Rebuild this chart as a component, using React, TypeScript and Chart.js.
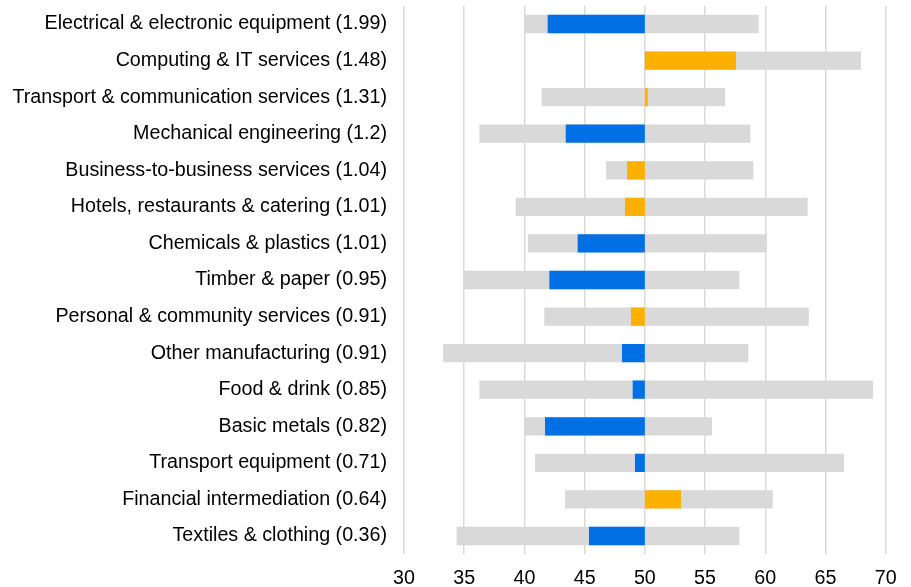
import React, { useEffect, useRef } from "react";
import { Chart, registerables } from "chart.js";

Chart.register(...registerables);

const categories = [
  "Electrical & electronic equipment (1.99)",
  "Computing & IT services (1.48)",
  "Transport & communication services (1.31)",
  "Mechanical engineering (1.2)",
  "Business-to-business services (1.04)",
  "Hotels, restaurants & catering (1.01)",
  "Chemicals & plastics (1.01)",
  "Timber & paper (0.95)",
  "Personal & community services (0.91)",
  "Other manufacturing (0.91)",
  "Food & drink (0.85)",
  "Basic metals (0.82)",
  "Transport equipment (0.71)",
  "Financial intermediation (0.64)",
  "Textiles & clothing (0.36)",
];

// sector group: "S" = services (orange), "M" = manufacturing (blue)
const sectorGroup = ["M", "S", "S", "M", "S", "S", "M", "M", "S", "M", "M", "M", "M", "S", "M"];

const rangeMin = [40.0, 50.0, 41.43, 36.26, 46.78, 39.27, 40.3, 34.98, 41.65, 33.24, 36.26, 39.97, 40.88, 43.37, 34.37];
const rangeMax = [59.45, 67.95, 56.66, 58.76, 59.01, 63.52, 60.15, 57.85, 63.61, 58.6, 68.95, 55.58, 66.54, 60.62, 57.85];
const indexValues = [41.93, 57.57, 50.24, 43.43, 48.52, 48.35, 44.42, 42.07, 48.85, 48.1, 48.99, 41.71, 49.18, 53.0, 45.36];
const baseline = 50;
const xTicks = [30, 35, 40, 45, 50, 55, 60, 65, 70];

const BLUE = "#0070E4";
const ORANGE = "#FCB100";
const GRAY = "#D9D9D9";

export default function App() {
  const ref = useRef<HTMLCanvasElement | null>(null);

  useEffect(() => {
    if (!ref.current) return;
    const chart = new Chart(ref.current, {
      type: "bar",
      data: {
        labels: categories,
        datasets: [
          {
            label: "Index",
            data: indexValues.map((v) => [baseline, v]) as any,
            backgroundColor: sectorGroup.map((g) => (g === "S" ? ORANGE : BLUE)),
            grouped: false,
            order: 0,
            barPercentage: 0.5,
            categoryPercentage: 1,
          },
          {
            label: "Range",
            data: rangeMin.map((m, i) => [m, rangeMax[i]]) as any,
            backgroundColor: GRAY,
            grouped: false,
            order: 1,
            barPercentage: 0.5,
            categoryPercentage: 1,
          },
        ],
      },
      options: {
        indexAxis: "y",
        animation: false,
        responsive: true,
        maintainAspectRatio: false,
        layout: { padding: { top: 5.7, right: 25.3, bottom: 0, left: 0 } },
        plugins: { legend: { display: false }, tooltip: { enabled: false } },
        scales: {
          x: {
            type: "linear",
            min: 30,
            max: 70,
            afterBuildTicks: (scale: any) => {
              scale.ticks = xTicks.map((v) => ({ value: v }));
            },
            afterFit: (scale: any) => {
              scale.height = 32.7;
              scale.paddingLeft = 0;
              scale.paddingRight = 0;
            },
            grid: { color: "#D9D9D9", lineWidth: 1.5, drawTicks: false },
            border: { display: false },
            ticks: {
              padding: 12,
              color: "#000",
              font: { family: "Liberation Sans, Arial, sans-serif", size: 19.7 },
            },
          },
          y: {
            type: "category",
            afterFit: (scale: any) => {
              scale.width = 404;
              scale.paddingTop = 0;
              scale.paddingBottom = 0;
            },
            grid: { display: false, drawTicks: false },
            border: { display: false },
            ticks: {
              padding: 17,
              color: "#000",
              font: { family: "Liberation Sans, Arial, sans-serif", size: 19.7 },
            },
          },
        },
      },
    });
    return () => chart.destroy();
  }, []);

  return (
    <div style={{ position: "fixed", left: 0, top: 0, width: 911, height: 587, background: "#fff" }}>
      <canvas ref={ref} />
    </div>
  );
}
